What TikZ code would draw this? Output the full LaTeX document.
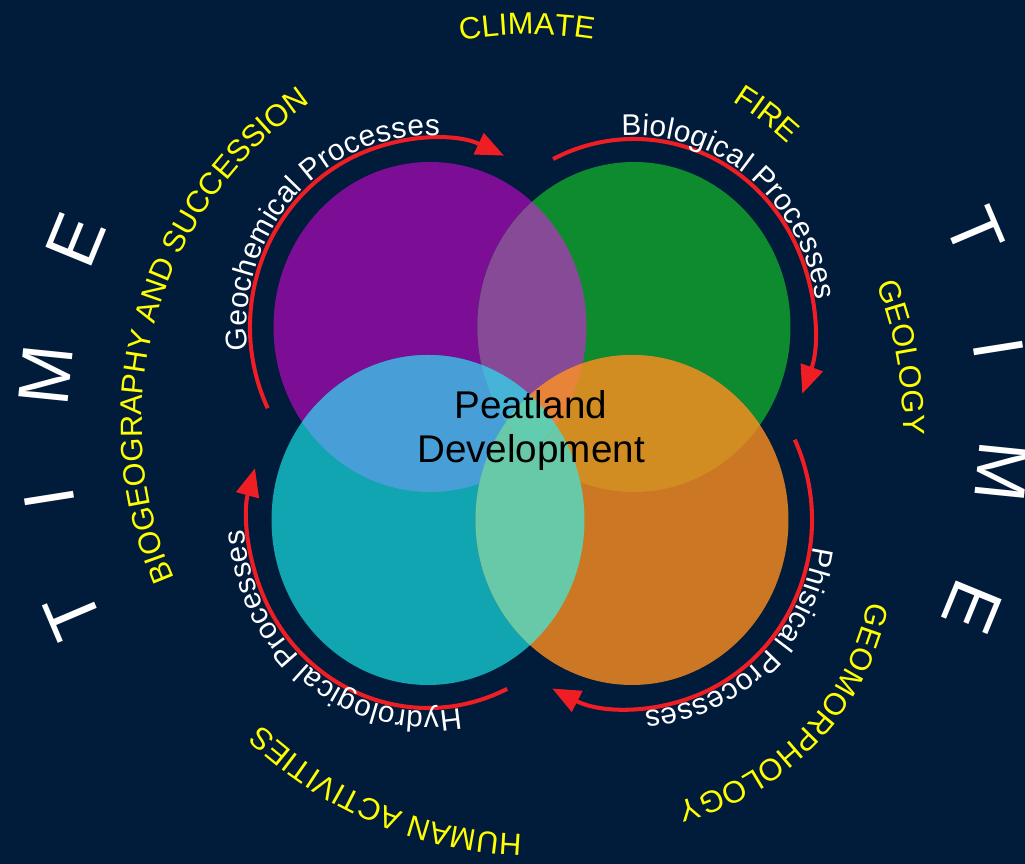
\documentclass[tikz,border=0pt]{standalone}
\usepackage{fontspec}
\setmainfont{Liberation Sans}
\usepackage{tikz}
\usetikzlibrary{arrows.meta,decorations.text}
\usepackage{xcolor}
\definecolor{navy}{RGB}{1,27,58}
\definecolor{geochem}{RGB}{123,14,148}
\definecolor{biol}{RGB}{14,139,46}
\definecolor{hydro}{RGB}{16,165,176}
\definecolor{phys}{RGB}{204,119,35}
\definecolor{geobio}{RGB}{135,74,150}
\definecolor{geohydro}{RGB}{72,159,215}
\definecolor{biophys}{RGB}{209,141,34}
\definecolor{hydrophys}{RGB}{103,201,168}
\definecolor{geobiohydro}{RGB}{70,180,214}
\definecolor{geobiophys}{RGB}{232,131,58}
\definecolor{allfour}{RGB}{98,204,176}
\definecolor{arcred}{RGB}{238,30,36}
\definecolor{factoryellow}{RGB}{255,255,0}
\newcommand\procfont{\fontsize{17pt}{20pt}\selectfont}
\newcommand\factorfont{\fontsize{17.5pt}{21pt}\selectfont}

\begin{document}
\begin{tikzpicture}[x=0.02cm, y=0.02cm,
    blob/.style={x radius=156.5, y radius=165},
    procarrow/.style={arcred, line width=2.3pt, -{Triangle[length=16pt,width=13pt]}},
    proclabel/.style={decorate, decoration={text along path, text align=center,
                      raise=2pt, text color=white, text={|\procfont|#1}}},
    factor/.style={decorate, decoration={text along path, text align=center,
                   text color=factoryellow, text={|\factorfont|#1}}},
    timeletter/.style={white, inner sep=0pt, font=\fontsize{41pt}{48pt}\selectfont}
]
\useasboundingbox (-531,-440.5) rectangle (494,423.5);
\fill[navy] (-531,-440.5) rectangle (494,423.5);
\clip (-531,-440.5) rectangle (494,423.5);

\coordinate (geo) at (-101,96.5);
\coordinate (bio) at (103,96.5);
\coordinate (hyd) at (-103,-96.5);
\coordinate (phy) at (101,-96.5);

% the four process circles and their overlaps
\fill[geochem] (geo) ellipse[blob];
\fill[biol] (bio) ellipse[blob];
\fill[hydro] (hyd) ellipse[blob];
\fill[phys] (phy) ellipse[blob];
\begin{scope}
  \clip (geo) ellipse[blob];
  \fill[geobio] (bio) ellipse[blob];
  \fill[geohydro] (hyd) ellipse[blob];
\end{scope}
\begin{scope}
  \clip (phy) ellipse[blob];
  \fill[biophys] (bio) ellipse[blob];
  \fill[hydrophys] (hyd) ellipse[blob];
\end{scope}
\begin{scope}
  \clip (geo) ellipse[blob];
  \clip (bio) ellipse[blob];
  \fill[geobiohydro] (hyd) ellipse[blob];
  \fill[geobiophys] (phy) ellipse[blob];
  \clip (hyd) ellipse[blob];
  \fill[allfour] (phy) ellipse[blob];
\end{scope}

\node[align=center, font=\fontsize{22pt}{25.5pt}\selectfont] (peat) at (0,-7) {Peatland\\Development};

\draw[procarrow] (geo) ++(205.6:180 and 188) arc[start angle=205.6, end angle=65.7, x radius=180, y radius=188];
\draw[procarrow] (bio) ++(116.7:180 and 188) arc[start angle=116.7, end angle=-20.8, x radius=180, y radius=188];
\draw[procarrow] (phy) ++(25.3:180 and 188) arc[start angle=25.3, end angle=-116.3, x radius=180, y radius=188];
\draw[procarrow] (hyd) ++(-63.9:180 and 188) arc[start angle=-63.9, end angle=-196, x radius=180, y radius=188];

\path[proclabel={Geochemical Processes}] (geo) ++(216.5:180 and 188) arc[start angle=216.5, end angle=56.5, x radius=180, y radius=188];
\path[proclabel={Biological Processes}] (bio) ++(131.5:180 and 188) arc[start angle=131.5, end angle=-28.5, x radius=180, y radius=188];
\path[proclabel={Phisical Processes}] (phy) ++(32.2:180 and 188) arc[start angle=32.2, end angle=-127.8, x radius=180, y radius=188];
\path[proclabel={Hydrological Processes}] (hyd) ++(-48:180 and 188) arc[start angle=-48, end angle=-208, x radius=180, y radius=188];

% outer factors
\path[factor=CLIMATE] (130.6:389) arc[start angle=130.6, end angle=50.6, radius=389];
\path[factor=FIRE] (77.7:380) arc[start angle=77.7, end angle=27.7, radius=380];
\path[factor=GEOLOGY] (40.1:372) arc[start angle=40.1, end angle=-19.9, radius=372];
\path[factor=GEOMORPHOLOGY] (82,-125.5) ++(16.3:261) arc[start angle=16.3, end angle=-103.7, radius=261];
\path[factor={HUMAN ACTIVITIES}] (5,-15.5) ++(287.1:396) arc[start angle=287.1, end angle=207.1, radius=396];
\path[factor={BIOGEOGRAPHY AND SUCCESSION}] (224:389) arc[start angle=224, end angle=104, radius=389];

\foreach \ch/\ang/\rad in {T/23/490, I/9/480, M/-5.8/481, E/-22.3/485} {
  \node[timeletter, rotate=\ang-90] (timeR\ch) at ([shift={(\ang:\rad)}]-7,0) {\ch};
  \node[timeletter, rotate=\ang+90] (timeL\ch) at ([shift={(\ang+180:\rad)}]-7,0) {\ch};
}
\end{tikzpicture}
\end{document}
